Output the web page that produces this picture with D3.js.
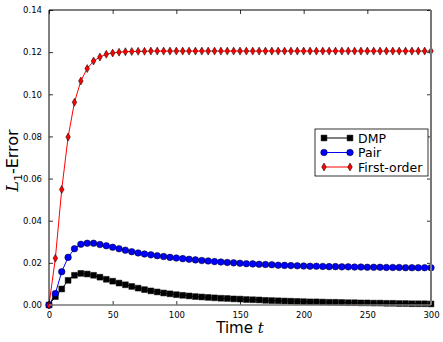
<!DOCTYPE html>
<html>
<head>
<meta charset="utf-8">
<script src="https://cdn.jsdelivr.net/npm/d3@7"></script>
<style>
  body { margin: 0; background: #fff; }
  svg { display: block; font-family: "DejaVu Sans", sans-serif; }
</style>
</head>
<body>
<div id="chart"></div>
<script>
// sample times, every 5 steps
var times = d3.range(0, 301, 5);

var dmpValues = [0, 0.0040, 0.0076, 0.0117, 0.0141, 0.0150, 0.0147, 0.0141, 0.0132, 0.0122,
  0.0113, 0.0104, 0.0096, 0.0088, 0.0080, 0.0073, 0.0067, 0.0062, 0.0057, 0.0053,
  0.0049, 0.0046, 0.0043, 0.0040, 0.0038, 0.0036, 0.0034, 0.0032, 0.0031, 0.0029,
  0.0028, 0.0026, 0.0025, 0.0024, 0.0022, 0.0021, 0.0020, 0.0019, 0.0018, 0.0017,
  0.0016, 0.0015, 0.0015, 0.0014, 0.0013, 0.0013, 0.0012, 0.0011, 0.0011, 0.0010,
  0.0010, 0.0009, 0.0009, 0.0008, 0.0008, 0.0007, 0.0007, 0.0006, 0.0006, 0.0006, 0.0005];

var pairValues = [0, 0.0054, 0.0158, 0.0226, 0.0267, 0.0288, 0.0293, 0.0293, 0.0287, 0.0281,
  0.0274, 0.0267, 0.0260, 0.0253, 0.0247, 0.0242, 0.0238, 0.0234, 0.0230, 0.0226,
  0.0223, 0.0220, 0.0217, 0.0214, 0.0211, 0.0209, 0.0206, 0.0204, 0.0202, 0.0200,
  0.0198, 0.0196, 0.0195, 0.0193, 0.0192, 0.0191, 0.0189, 0.0188, 0.0187, 0.0186,
  0.0185, 0.0184, 0.0184, 0.0183, 0.0182, 0.0182, 0.0181, 0.0181, 0.0180, 0.0180,
  0.0179, 0.0179, 0.0179, 0.0178, 0.0178, 0.0178, 0.0177, 0.0177, 0.0177, 0.0177, 0.0177];

var firstOrderValues = [0, 0.0222, 0.0548, 0.0797, 0.0962, 0.1063, 0.1122, 0.1158, 0.1177, 0.1190,
  0.1196, 0.1200, 0.1202, 0.1203, 0.1204, 0.1204, 0.1205, 0.1205, 0.1205, 0.1205,
  0.1205, 0.1205, 0.1205, 0.1205, 0.1205, 0.1205, 0.1205, 0.1205, 0.1205, 0.1205,
  0.1205, 0.1205, 0.1205, 0.1205, 0.1205, 0.1205, 0.1205, 0.1205, 0.1205, 0.1205,
  0.1205, 0.1205, 0.1205, 0.1205, 0.1205, 0.1205, 0.1205, 0.1205, 0.1205, 0.1205,
  0.1205, 0.1205, 0.1205, 0.1205, 0.1205, 0.1205, 0.1205, 0.1205, 0.1205, 0.1205, 0.1205];

var xTicks = [0, 50, 100, 150, 200, 250, 300];
var yTicks = [0, 0.02, 0.04, 0.06, 0.08, 0.10, 0.12, 0.14];

var seriesNames = ["DMP", "Pair", "First-order"];
var seriesColors = ["#000000", "#0000ff", "#ff0000"];
var seriesMarkers = ["square", "circle", "diamond"];

var width_outer = 443, height_outer = 342;
var margin = {top: 10, right: 12, bottom: 37, left: 49};
var width_inner = width_outer - margin.left - margin.right;
var height_inner = height_outer - margin.top - margin.bottom;

var svg = d3.select("#chart").append("svg")
  .attr("width", width_outer)
  .attr("height", height_outer);

var inner = svg.append("g")
  .attr("transform", "translate(" + margin.left + "," + margin.top + ")");

var xScale = d3.scaleLinear().domain([0, 300]).range([0, width_inner]);
var yScale = d3.scaleLinear().domain([0, 0.14]).range([height_inner, 0]);

// inward ticks on all four sides, labels only bottom/left
var xAxis = d3.axisBottom(xScale).tickValues(xTicks).tickSizeInner(-4).tickSizeOuter(0).tickPadding(7);
var yAxis = d3.axisLeft(yScale).tickValues(yTicks).tickSizeInner(-4).tickSizeOuter(0).tickPadding(7)
  .tickFormat(d3.format(".2f"));
var xTop = d3.axisTop(xScale).tickValues(xTicks).tickSizeInner(-4).tickSizeOuter(0).tickFormat("");
var yRight = d3.axisRight(yScale).tickValues(yTicks).tickSizeInner(-4).tickSizeOuter(0).tickFormat("");

function styleAxis(g) {
  g.select(".domain").remove();
  g.selectAll(".tick line").attr("stroke", "#000").attr("stroke-width", 0.8);
  g.selectAll(".tick text").attr("fill", "#000").style("font-size", "8.5px")
    .style("font-family", "'DejaVu Sans', sans-serif");
}

inner.append("g").attr("transform", "translate(0," + height_inner + ")").call(xAxis).call(styleAxis);
inner.append("g").call(yAxis).call(styleAxis);
inner.append("g").call(xTop).call(styleAxis);
inner.append("g").attr("transform", "translate(" + width_inner + ",0)").call(yRight).call(styleAxis);

// plots
var plots = inner.append("g").attr("class", "g_plots");

var allSeries = [dmpValues, pairValues, firstOrderValues];

var line = d3.line()
  .x(function(d) { return xScale(d.x); })
  .y(function(d) { return yScale(d.y); });

function markerPath(type) {
  if (type === "square") return "M-2.9,-2.9H2.9V2.9H-2.9Z";
  if (type === "circle") return d3.symbol(d3.symbolCircle, 34)();
  return "M0,-4L2.3,0L0,4L-2.3,0Z";
}

allSeries.forEach(function(vals, i) {
  var data = times.map(function(t, j) { return {x: t, y: vals[j]}; });
  plots.append("path")
    .datum(data)
    .attr("d", line)
    .attr("fill", "none")
    .attr("stroke", seriesColors[i])
    .attr("stroke-width", 1);
});

// markers drawn after lines, in series order
allSeries.forEach(function(vals, i) {
  var data = times.map(function(t, j) { return {x: t, y: vals[j]}; });
  plots.selectAll(".m" + i)
    .data(data)
    .enter().append("path")
    .attr("class", "m" + i)
    .attr("transform", function(d) { return "translate(" + xScale(d.x) + "," + yScale(d.y) + ")"; })
    .attr("d", markerPath(seriesMarkers[i]))
    .attr("fill", seriesColors[i])
    .attr("stroke", "#000")
    .attr("stroke-width", 0.5);
});

// frame
inner.append("line").attr("x1", 0).attr("x2", width_inner).attr("y1", 0).attr("y2", 0)
  .attr("stroke", "#000").attr("stroke-width", 1);
inner.append("line").attr("x1", 0).attr("x2", 0).attr("y1", 0).attr("y2", height_inner)
  .attr("stroke", "#000").attr("stroke-width", 1);
inner.append("line").attr("x1", width_inner).attr("x2", width_inner).attr("y1", 0).attr("y2", height_inner)
  .attr("stroke", "#777").attr("stroke-width", 2);
inner.append("line").attr("x1", 0).attr("x2", width_inner).attr("y1", height_inner).attr("y2", height_inner)
  .attr("stroke", "#777").attr("stroke-width", 1.6);

// legend
var legend = inner.append("g").attr("transform", "translate(" + (315 - margin.left) + "," + (129 - margin.top) + ")");
legend.append("rect")
  .attr("x", 0).attr("y", 0).attr("width", 113).attr("height", 47)
  .attr("fill", "#fff").attr("stroke", "#000").attr("stroke-width", 0.8);

seriesNames.forEach(function(name, i) {
  var ly = 9 + i * 14.5;
  legend.append("line").attr("x1", 9).attr("x2", 35).attr("y1", ly).attr("y2", ly)
    .attr("stroke", seriesColors[i]).attr("stroke-width", 1);
  [9, 35].forEach(function(mx) {
    legend.append("path")
      .attr("transform", "translate(" + mx + "," + ly + ")")
      .attr("d", markerPath(seriesMarkers[i]))
      .attr("fill", seriesColors[i])
      .attr("stroke", "#000").attr("stroke-width", 0.5);
  });
  legend.append("text")
    .attr("x", 43).attr("y", ly + 4.5)
    .style("font-size", "12.5px")
    .text(name);
});

// axis labels
svg.append("text")
  .attr("x", margin.left + width_inner / 2)
  .attr("y", 333)
  .attr("text-anchor", "middle")
  .style("font-size", "15px")
  .html("Time <tspan font-style='italic' font-family='DejaVu Serif'>t</tspan>");

var ylab = svg.append("text")
  .attr("transform", "translate(18," + (margin.top + height_inner / 2 + 3) + ") rotate(-90)")
  .attr("text-anchor", "middle")
  .style("font-size", "16px");
ylab.append("tspan").attr("font-style", "italic").attr("font-family", "DejaVu Serif").text("L");
ylab.append("tspan").attr("dy", 4).style("font-size", "11px").text("1");
ylab.append("tspan").attr("dy", -4).text("-Error");
</script>
</body>
</html>
